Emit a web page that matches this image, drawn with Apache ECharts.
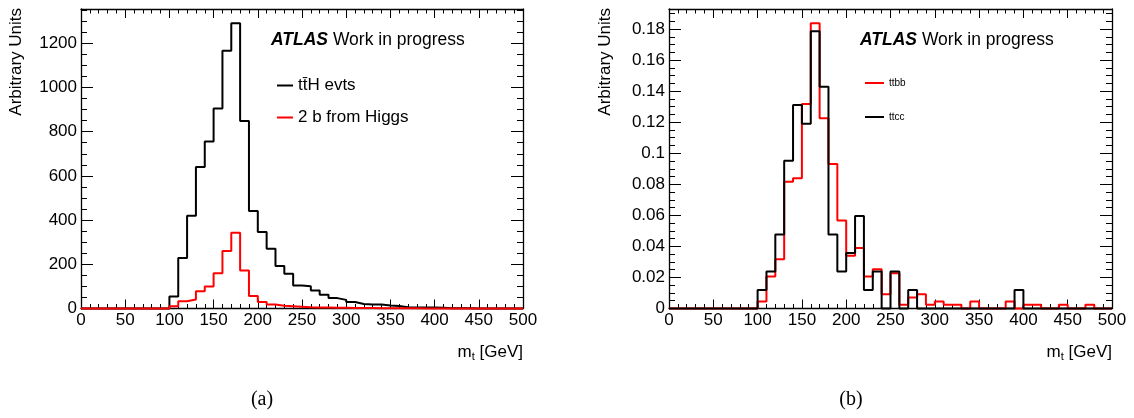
<!DOCTYPE html>
<html>
<head>
<meta charset="utf-8">
<script src="https://cdn.jsdelivr.net/npm/echarts@6/dist/echarts.min.js"></script>
<style>
html,body{margin:0;padding:0;background:#fff;}
#c{width:1134px;height:418px;}
</style>
</head>
<body>
<div id="c"></div>
<script>
// ---- data ----
const binLow = Array.from({length: 50}, (_, i) => i * 10); // lower bin edges, GeV
const xTickLabels = [0, 50, 100, 150, 200, 250, 300, 350, 400, 450, 500];

// (a) left panel
const ttHEvts = [0,0,0,0,0,0,0,0,0,0,
  54,228,420,640,755,905,1166,1290,848,441,
  346,270,192,157,104,101,82,62,47,39,
  29,20,18,18,14,11,6,4,4,4,
  3,1,1,1,0,0,0,0,0,0];
const twoBFromHiggs = [0,0,0,0,0,0,0,0,0,0,
  10,33,41,78,100,160,260,343,172,56,
  29,18,12,10,8,6,5,4,3,3,
  2,2,2,1,1,1,1,1,0,0,
  0,0,0,0,0,0,0,0,0,0];
const yTicksA = [0, 200, 400, 600, 800, 1000, 1200];

// (b) right panel
const ttbb = [0,0,0,0,0,0,0,0,0,0,
  0.0045,0.0206,0.0318,0.0817,0.0839,0.1317,0.1837,0.1225,0.0931,0.0566,
  0.0339,0.0389,0.0206,0.0253,0.0092,0.0227,0.0024,0.0071,0.0092,0.0024,
  0.0045,0.0024,0.0024,0,0.0045,0,0,0,0.0045,0,
  0.0024,0.0024,0,0,0.0024,0,0,0.0024,0,0];
const ttcc = [0,0,0,0,0,0,0,0,0,0,
  0.0119,0.0238,0.0476,0.0952,0.1310,0.1190,0.1786,0.1429,0.0476,0.0238,
  0.0357,0.0595,0.0119,0.0238,0,0.0238,0,0.0119,0,0,
  0,0,0,0,0,0,0,0,0,0.0119,
  0,0,0,0,0,0,0,0,0,0];
const yTicksB = [0, 0.02, 0.04, 0.06, 0.08, 0.1, 0.12, 0.14, 0.16, 0.18];

const yMaxA = 1355, yMaxB = 0.1929;
const minorA = []; for (let v = 0; v <= yMaxA; v += 50) minorA.push(v);
const minorB = []; for (let k = 0; k * 0.005 <= yMaxB; k++) minorB.push(+(k * 0.005).toFixed(3));

function steps(vals) {
  const d = vals.map((v, i) => [binLow[i], v]);
  d.push([500, vals[vals.length - 1]]);
  return d;
}

const FONT = 'Liberation Sans, Arial, Helvetica, sans-serif';
const lab = {fontFamily: FONT, fontSize: 17, color: '#000'};
const axLine = {show: true, onZero: false, lineStyle: {color: '#000', width: 1.3}};

function xAxes(grid) {
  const common = {
    type: 'value', gridIndex: grid, min: 0, max: 500, interval: 50,
    splitLine: {show: false},
    axisLine: axLine,
    axisTick: {show: true, inside: true, length: 9, lineStyle: {color: '#000', width: 1}},
    minorTick: {show: true, splitNumber: 5, length: 4.5, lineStyle: {color: '#000', width: 1}}
  };
  return [
    Object.assign({}, common, {position: 'bottom',
      axisLabel: Object.assign({show: true, margin: 3,
        customValues: xTickLabels}, lab)}),
    Object.assign({}, common, {position: 'top', axisLabel: {show: false}})
  ];
}

function yAxes(grid, max, majors, minors, fmt) {
  const base = {type: 'value', gridIndex: grid, min: 0, max: max, splitLine: {show: false}};
  const maj = {show: true, inside: true, length: 12, customValues: majors, lineStyle: {color: '#000', width: 1}};
  const mnr = {show: true, inside: true, length: 6, customValues: minors, lineStyle: {color: '#000', width: 1}};
  return [
    Object.assign({}, base, {position: 'left', axisLine: axLine, axisTick: maj,
      axisLabel: Object.assign({show: true, margin: 4, customValues: majors, formatter: fmt}, lab)}),
    Object.assign({}, base, {position: 'left', axisLine: {show: false, onZero: false}, axisTick: mnr, axisLabel: {show: false}}),
    Object.assign({}, base, {position: 'right', axisLine: axLine, axisTick: maj, axisLabel: {show: false}}),
    Object.assign({}, base, {position: 'right', axisLine: {show: false, onZero: false}, axisTick: mnr, axisLabel: {show: false}})
  ];
}

function hist(name, vals, color, xi, yi) {
  return {
    name: name, type: 'line', step: 'end', data: steps(vals),
    xAxisIndex: xi, yAxisIndex: yi, symbol: 'none', showSymbol: false,
    clip: false, color: color,
    lineStyle: {color: color, width: 2}
  };
}

const chart = echarts.init(document.getElementById('c'), null, {renderer: 'canvas'});
chart.setOption({
  animation: false,
  backgroundColor: '#fff',
  grid: [
    {left: 81, width: 442, top: 9, height: 299.5},
    {left: 669, width: 443, top: 9, height: 299.5}
  ],
  xAxis: xAxes(0).concat(xAxes(1)),
  yAxis: yAxes(0, yMaxA, yTicksA, minorA, v => String(v))
    .concat(yAxes(1, yMaxB, yTicksB, minorB, v => String(+(+v).toFixed(3)))),
  legend: [
    {data: ['tt\u0304H evts', '2 b from Higgs'], orient: 'vertical', left: 276, top: 77,
     itemWidth: 16, itemHeight: 14, itemGap: 15, padding: 0, selectedMode: false,
     itemStyle: {opacity: 0},
     textStyle: {fontFamily: FONT, fontSize: 17, color: '#000'}},
    {data: ['ttbb', 'ttcc'], orient: 'vertical', left: 864, top: 78,
     itemWidth: 19, itemHeight: 10, itemGap: 24, padding: 0, selectedMode: false,
     itemStyle: {opacity: 0},
     textStyle: {fontFamily: FONT, fontSize: 10, color: '#000'}}
  ],
  series: [
    hist('tt\u0304H evts', ttHEvts, '#000000', 0, 0),
    hist('2 b from Higgs', twoBFromHiggs, '#ff0000', 0, 0),
    hist('ttbb', ttbb, '#ff0000', 2, 4),
    hist('ttcc', ttcc, '#000000', 2, 4)
  ],
  graphic: [
    {type: 'text', x: 271, y: 40, style: {text: '{b|ATLAS} Work in progress',
      font: '17.5px ' + FONT, fill: '#000', textVerticalAlign: 'middle',
      rich: {b: {fontStyle: 'italic', fontWeight: 'bold', fontSize: 17.5, fontFamily: FONT}}}},
    {type: 'text', x: 860, y: 40, style: {text: '{b|ATLAS} Work in progress',
      font: '17.5px ' + FONT, fill: '#000', textVerticalAlign: 'middle',
      rich: {b: {fontStyle: 'italic', fontWeight: 'bold', fontSize: 17.5, fontFamily: FONT}}}},
    {type: 'text', x: 16, y: 8, rotation: Math.PI / 2, style: {text: 'Arbitrary Units',
      font: '17px ' + FONT, fill: '#000', textAlign: 'right', textVerticalAlign: 'middle'}},
    {type: 'text', x: 605.5, y: 8, rotation: Math.PI / 2, style: {text: 'Arbitrary Units',
      font: '17px ' + FONT, fill: '#000', textAlign: 'right', textVerticalAlign: 'middle'}},
    {type: 'text', x: 523, y: 352, style: {text: 'm{s|t} [GeV]', font: '17px ' + FONT, fill: '#000',
      textAlign: 'right', textVerticalAlign: 'middle',
      rich: {s: {fontSize: 11, fontFamily: FONT, padding: [9, 0, 0, 0]}}}},
    {type: 'text', x: 1112, y: 352, style: {text: 'm{s|t} [GeV]', font: '17px ' + FONT, fill: '#000',
      textAlign: 'right', textVerticalAlign: 'middle',
      rich: {s: {fontSize: 11, fontFamily: FONT, padding: [9, 0, 0, 0]}}}},
    {type: 'text', x: 262, y: 400, style: {text: '(a)', font: '20px "Liberation Serif", serif', fill: '#000',
      textAlign: 'center', textVerticalAlign: 'middle'}},
    {type: 'text', x: 851, y: 400, style: {text: '(b)', font: '20px "Liberation Serif", serif', fill: '#000',
      textAlign: 'center', textVerticalAlign: 'middle'}}
  ]
});
</script>
</body>
</html>
